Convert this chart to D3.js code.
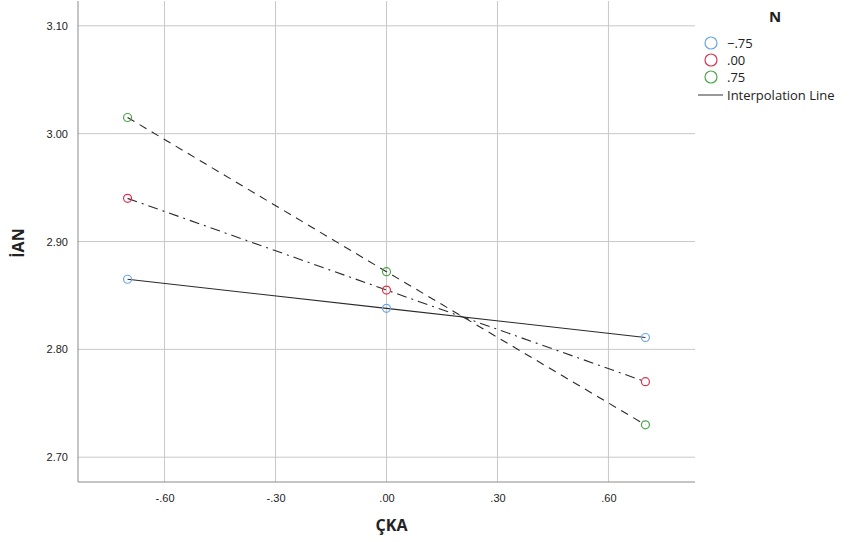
<!DOCTYPE html>
<html>
<head>
<meta charset="utf-8">
<script src="https://cdn.jsdelivr.net/npm/d3@7"></script>
<style>
  body { margin: 0; background: #fff; }
  svg { font-family: "Open Sans", "DejaVu Sans", sans-serif; }
  .grid line { stroke: #c8c8c8; stroke-width: 1; }
  .axis path, .axis line { stroke: #8a8a8a; }
  .axis text { fill: #222; font-size: 11px; }
</style>
</head>
<body>
<svg id="chart" width="855" height="542"></svg>
<script>
// x values (ÇKA) shared by every series
var xVals = [-0.70, 0.00, 0.70];

// estimated means of İAN for each N level
var nLevels = ["\u2212.75", ".00", ".75"];
var lowN  = [2.865, 2.838, 2.811];
var midN  = [2.940, 2.855, 2.770];
var highN = [3.015, 2.872, 2.730];

var xTicks = [-0.60, -0.30, 0.00, 0.30, 0.60];
var yTicks = [2.70, 2.80, 2.90, 3.00, 3.10];

var colors = ["#6aa6e6", "#e0304f", "#4aa64a"];
var dashes = [null, "10,5,2,5", "8,6"];

var cfg = { left: 78, right: 695, top: 1, bottom: 482 };

var svg = d3.select("#chart");

var x = d3.scaleLinear().domain([-0.834, 0.834]).range([cfg.left, cfg.right]);
var y = d3.scaleLinear().domain([2.677, 3.123]).range([cfg.bottom, cfg.top]);

function fmt(v) {
	var s = d3.format(".2f")(Math.abs(v)).replace(/^0/, "");
	return v < 0 ? "-" + s : s;
}

// grid
var grid = svg.append("g").attr("class", "grid");
grid.selectAll("line.v").data(xTicks).enter().append("line")
	.attr("x1", function(d) { return x(d); }).attr("x2", function(d) { return x(d); })
	.attr("y1", cfg.top).attr("y2", cfg.bottom);
grid.selectAll("line.h").data(yTicks).enter().append("line")
	.attr("x1", cfg.left).attr("x2", cfg.right)
	.attr("y1", function(d) { return y(d); }).attr("y2", function(d) { return y(d); });

// axes
svg.append("g").attr("class", "axis")
	.attr("transform", "translate(0," + cfg.bottom + ")")
	.call(d3.axisBottom(x).tickValues(xTicks).tickSize(0).tickPadding(12).tickFormat(fmt))
	.call(function(g) { g.select(".domain").attr("d", "M" + cfg.left + ",0H" + cfg.right); });
svg.append("g").attr("class", "axis")
	.attr("transform", "translate(" + cfg.left + ",0)")
	.call(d3.axisLeft(y).tickValues(yTicks).tickSize(0).tickPadding(10).tickFormat(d3.format(".2f")))
	.call(function(g) { g.select(".domain").attr("d", "M0," + cfg.top + "V" + cfg.bottom); });

// axis titles
svg.append("text").attr("x", (cfg.left + cfg.right) / 2 + 5).attr("y", 531)
	.attr("text-anchor", "middle").attr("font-size", 16).attr("font-weight", "bold")
	.attr("fill", "#222").text("ÇKA");
svg.append("text").attr("transform", "translate(24,243) rotate(-90)")
	.attr("text-anchor", "middle").attr("font-size", 16).attr("font-weight", "bold")
	.attr("fill", "#222").text("İAN");

// series
var series = [lowN, midN, highN].map(function(vals, i) {
	return { name: nLevels[i], color: colors[i], dash: dashes[i],
		pts: vals.map(function(v, j) { return { x: xVals[j], y: v }; }) };
});

var line = d3.line().x(function(d) { return x(d.x); }).y(function(d) { return y(d.y); });

svg.selectAll("path.series").data(series).enter().append("path")
	.attr("class", "series")
	.attr("d", function(d) { return line(d.pts); })
	.attr("fill", "none").attr("stroke", "#2a2a2a").attr("stroke-width", 1.1)
	.attr("stroke-dasharray", function(d) { return d.dash; });

series.forEach(function(s) {
	svg.selectAll(null).data(s.pts).enter().append("circle")
		.attr("cx", function(d) { return x(d.x); })
		.attr("cy", function(d) { return y(d.y); })
		.attr("r", 4).attr("fill", "#fff").attr("fill-opacity", 0)
		.attr("stroke", s.color).attr("stroke-width", 1.2);
});

// legend
var lg = svg.append("g").attr("transform", "translate(697,0)");
lg.append("text").attr("x", 78).attr("y", 22).attr("text-anchor", "middle")
	.attr("font-size", 15).attr("font-weight", "bold").attr("fill", "#222").text("N");
series.forEach(function(s, i) {
	var yy = 43 + i * 17;
	lg.append("circle").attr("cx", 14).attr("cy", yy).attr("r", 6)
		.attr("fill", "none").attr("stroke", s.color).attr("stroke-width", 1.2);
	lg.append("text").attr("x", 30).attr("y", yy + 5).attr("font-size", 13)
		.attr("fill", "#222").text(s.name);
});
lg.append("line").attr("x1", 1).attr("x2", 26).attr("y1", 95).attr("y2", 95)
	.attr("stroke", "#555").attr("stroke-width", 1.2);
lg.append("text").attr("x", 30).attr("y", 100).attr("font-size", 13)
	.attr("fill", "#222").text("Interpolation Line");
</script>
</body>
</html>
